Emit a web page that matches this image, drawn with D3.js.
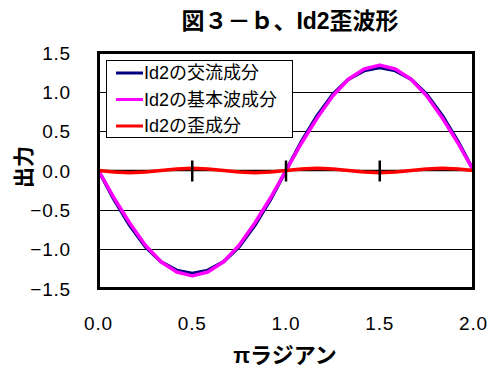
<!DOCTYPE html>
<html>
<head>
<meta charset="utf-8">
<script src="https://cdn.jsdelivr.net/npm/d3@7"></script>
<style>
  body { margin: 0; background: #fff; }
  text { font-family: "Liberation Sans", "Noto Sans CJK JP", sans-serif; }
</style>
</head>
<body>
<svg id="chart" width="504" height="377"></svg>
<script>
// x in units of pi, sampled every pi/12
var xs = [0, 0.083, 0.167, 0.25, 0.333, 0.417, 0.5, 0.583, 0.667, 0.75, 0.833, 0.917,
          1.0, 1.083, 1.167, 1.25, 1.333, 1.417, 1.5, 1.583, 1.667, 1.75, 1.833, 1.917, 2.0];

// fundamental component
var fundamental = [0, -0.35, -0.67, -0.95, -1.16, -1.29, -1.34, -1.29, -1.16, -0.95, -0.67, -0.35,
                   0, 0.35, 0.67, 0.95, 1.16, 1.29, 1.34, 1.29, 1.16, 0.95, 0.67, 0.35, 0];

// distortion component
var distortion = [0, -0.02, -0.03, -0.02, 0, 0.02, 0.03, 0.02, 0, -0.02, -0.03, -0.02,
                  0, 0.02, 0.03, 0.02, 0, -0.02, -0.03, -0.02, 0, 0.02, 0.03, 0.02, 0];

// AC component
var acValues = [0, -0.37, -0.70, -0.97, -1.16, -1.27, -1.31, -1.27, -1.16, -0.97, -0.70, -0.37,
                0, 0.37, 0.70, 0.97, 1.16, 1.27, 1.31, 1.27, 1.16, 0.97, 0.70, 0.37, 0];

var seriesNames = ['Id2の交流成分', 'Id2の基本波成分', 'Id2の歪成分'];
var seriesColors = ['#000080', '#ff00ff', '#ff0000'];
var xTicks = [0, 0.5, 1.0, 1.5, 2.0];
var yTicks = [-1.5, -1.0, -0.5, 0, 0.5, 1.0, 1.5];

var svg = d3.select('#chart');

var x = d3.scaleLinear().domain([0, 2]).range([98.5, 473.5]);
var y = d3.scaleLinear().domain([-1.5, 1.5]).range([288.5, 52.5]);

// title
svg.append('text')
   .attr('x', 290).attr('y', 29)
   .attr('text-anchor', 'middle')
   .attr('font-size', 23).attr('font-weight', 'bold')
   .text('図３－ｂ、Id2歪波形');

// gridlines
svg.append('g').selectAll('line')
   .data(yTicks.filter(d => d != 0 && Math.abs(d) != 1.5))
   .join('line')
   .attr('x1', x(0)).attr('x2', x(2))
   .attr('y1', d => Math.round(y(d)) + 0.5).attr('y2', d => Math.round(y(d)) + 0.5)
   .attr('stroke', 'black').attr('stroke-width', 1);

// zero axis line
svg.append('line')
   .attr('x1', x(0)).attr('x2', x(2))
   .attr('y1', y(0)).attr('y2', y(0))
   .attr('stroke', 'black').attr('stroke-width', 1.5);

// y tick labels
svg.append('g').selectAll('text')
   .data(yTicks)
   .join('text')
   .attr('x', 71).attr('y', d => y(d) + 7)
   .attr('text-anchor', 'end')
   .attr('font-size', 19).attr('letter-spacing', 0.8)
   .text(d => d3.format('.1f')(d).replace('-', '−'));

// x tick labels
svg.append('g').selectAll('text')
   .data(xTicks)
   .join('text')
   .attr('x', d => x(d)).attr('y', 330)
   .attr('text-anchor', 'middle')
   .attr('font-size', 19).attr('letter-spacing', 0.8)
   .text(d => d3.format('.1f')(d));

// axis titles
svg.append('text')
   .attr('x', 285).attr('y', 363)
   .attr('text-anchor', 'middle')
   .attr('font-size', 22).attr('font-weight', 'bold')
   .text('πラジアン');

svg.append('text')
   .attr('transform', 'translate(31,167) rotate(-90)')
   .attr('text-anchor', 'middle')
   .attr('font-size', 21).attr('font-weight', 'bold')
   .text('出力');

// series
var line = d3.line()
             .x((d, i) => x(xs[i]))
             .y(d => y(d));

[acValues, fundamental, distortion].forEach((vals, i) => {
  svg.append('path')
     .datum(vals)
     .attr('fill', 'none')
     .attr('stroke', seriesColors[i])
     .attr('stroke-width', 3.5)
     .attr('stroke-linejoin', 'round')
     .attr('d', line);
});

// x ticks crossing the zero line
svg.append('g').selectAll('line')
   .data([0.5, 1.0, 1.5])
   .join('line')
   .attr('x1', d => x(d)).attr('x2', d => x(d))
   .attr('y1', y(0) - 10).attr('y2', y(0) + 11)
   .attr('stroke', 'black').attr('stroke-width', 2.5);

// plot border
svg.append('rect')
   .attr('x', x(0)).attr('y', y(1.5))
   .attr('width', x(2) - x(0)).attr('height', y(-1.5) - y(1.5))
   .attr('fill', 'none')
   .attr('stroke', 'black').attr('stroke-width', 3);

// legend
var legend = svg.append('g').attr('transform', 'translate(106,60)');

legend.append('rect')
      .attr('x', 0.5).attr('y', 0.5)
      .attr('width', 186).attr('height', 77)
      .attr('fill', 'white')
      .attr('stroke', 'black').attr('stroke-width', 1);

seriesNames.forEach((name, i) => {
  var ly = 13 + i * 26.5;
  legend.append('line')
        .attr('x1', 10).attr('x2', 37)
        .attr('y1', ly).attr('y2', ly)
        .attr('stroke', seriesColors[i]).attr('stroke-width', 3);
  legend.append('text')
        .attr('x', 38).attr('y', ly + 6)
        .attr('font-size', 18)
        .text(name);
});
</script>
</body>
</html>
